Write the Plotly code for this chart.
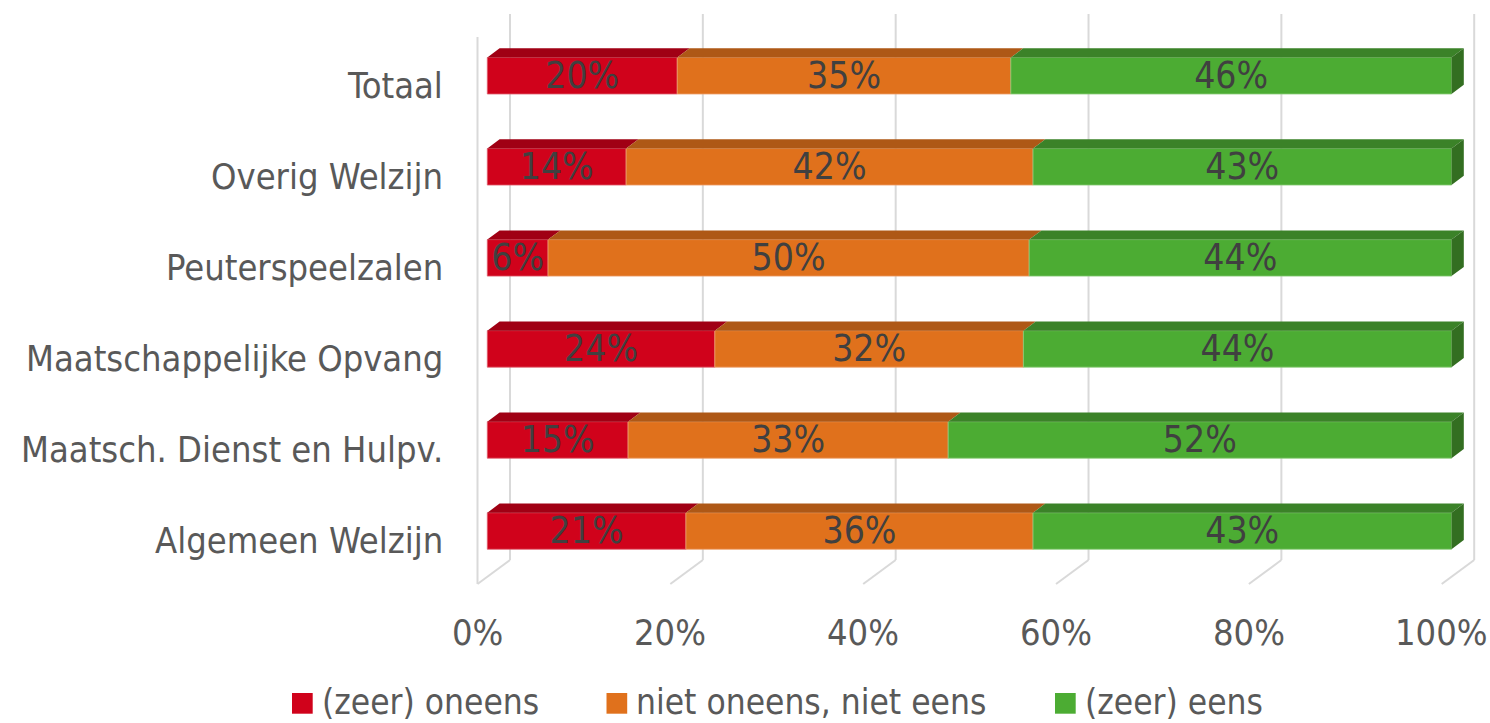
import plotly.graph_objects as go

# ---- data -------------------------------------------------------------
categories = [
    "Totaal",
    "Overig Welzijn",
    "Peuterspeelzalen",
    "Maatschappelijke Opvang",
    "Maatsch. Dienst en Hulpv.",
    "Algemeen Welzijn",
]
series_names = ["(zeer) oneens", "niet oneens, niet eens", "(zeer) eens"]
oneens = [19.7, 14.4, 6.3, 23.6, 14.6, 20.6]
neutraal = [34.6, 42.2, 49.9, 32.0, 33.2, 36.0]
eens = [45.7, 43.4, 43.8, 44.4, 52.2, 43.4]
x_ticks = [0, 20, 40, 60, 80, 100]
x_ticklabels = ["0%", "20%", "40%", "60%", "80%", "100%"]

# ---- style ------------------------------------------------------------
front_colors = ["#D0021B", "#E0711C", "#4CAC33"]
edge_colors = ["#E0606E", "#EDA069", "#8ACB79"]
top_colors = ["#A00014", "#AE5816", "#3B8228"]
side_color = "#336E21"
grid_color = "#D9D9D9"
label_color = "#404040"
axis_text_color = "#595959"
FONT = "DejaVu Sans Condensed, DejaVu Sans, sans-serif"

W, H = 1490, 723
X0_PX = 487.3        # pixel of 0% on the bar fronts
PX_PER_PCT = 9.642   # pixels per percent
Y0_PX = 75.75        # pixel centre of the first row
PX_PER_ROW = 91.05   # pixels between rows


def dx(px):
    return px / PX_PER_PCT


def dy(px):
    return px / PX_PER_ROW


BAR_W = dy(36.5)
DEPTH_X = dx(12.3)
DEPTH_Y = dy(9.2)
BACK_DX = dx(22.7)
FRONT_DX = dx(-9.8)
GRID_TOP = dy(14 - Y0_PX)
WALL_TOP = dy(37 - Y0_PX)
BACK_FLOOR = dy(560 - Y0_PX)
FRONT_FLOOR = dy(584 - Y0_PX)

rows = list(range(len(categories)))
series_values = [oneens, neutraal, eens]

fig = go.Figure()

# bar fronts, stacked
bases = [0.0] * len(rows)
series_bases = []
for name, vals, col, edge in zip(series_names, series_values, front_colors, edge_colors):
    series_bases.append(list(bases))
    fig.add_trace(go.Bar(
        y=rows, x=vals, base=list(bases), orientation="h", width=BAR_W,
        marker=dict(color=col, line=dict(width=0.8, color=edge)), name=name,
        showlegend=False, hoverinfo="skip",
    ))
    bases = [b + v for b, v in zip(bases, vals)]

# top faces of each segment
for vals, base, col in zip(series_values, series_bases, top_colors):
    xs, ys = [], []
    for r, v, b in zip(rows, vals, base):
        yt = r - BAR_W / 2
        xs += [b, b + v, b + v + DEPTH_X, b + DEPTH_X, b, None]
        ys += [yt, yt, yt - DEPTH_Y, yt - DEPTH_Y, yt, None]
    fig.add_trace(go.Scatter(
        x=xs, y=ys, mode="lines", fill="toself", fillcolor=col,
        line=dict(width=0, color=col), showlegend=False, hoverinfo="skip",
    ))

# right-hand side faces of the last segment
xs, ys = [], []
for r, b, v in zip(rows, series_bases[-1], series_values[-1]):
    xe = b + v
    yt, yb = r - BAR_W / 2, r + BAR_W / 2
    xs += [xe, xe + DEPTH_X, xe + DEPTH_X, xe, xe, None]
    ys += [yt, yt - DEPTH_Y, yb - DEPTH_Y, yb, yt, None]
fig.add_trace(go.Scatter(
    x=xs, y=ys, mode="lines", fill="toself", fillcolor=side_color,
    line=dict(width=0, color=side_color), showlegend=False, hoverinfo="skip",
))

# value labels centred on each front face
for vals, base in zip(series_values, series_bases):
    fig.add_trace(go.Scatter(
        x=[b + v / 2 for b, v in zip(base, vals)], y=[r + dy(2.5) for r in rows], mode="text",
        text=[f"{int(v + 0.5)}%" for v in vals],
        textposition="middle center",
        textfont=dict(family=FONT, size=37, color=label_color),
        showlegend=False, hoverinfo="skip",
    ))

# back wall gridlines, floor lines and side wall edge
shapes = []
for t in x_ticks:
    shapes.append(dict(type="line", layer="below", x0=t + BACK_DX, x1=t + BACK_DX,
                       y0=GRID_TOP, y1=BACK_FLOOR, line=dict(color=grid_color, width=2)))
    shapes.append(dict(type="line", layer="below", x0=t + BACK_DX, x1=t + FRONT_DX,
                       y0=BACK_FLOOR, y1=FRONT_FLOOR, line=dict(color=grid_color, width=2)))
shapes.append(dict(type="line", layer="below", x0=x_ticks[0] + FRONT_DX, x1=x_ticks[0] + FRONT_DX,
                   y0=WALL_TOP, y1=FRONT_FLOOR, line=dict(color=grid_color, width=2)))

annotations = []
# category labels
for r, c in zip(rows, categories):
    annotations.append(dict(x=dx(444.5 - X0_PX), y=r + dy(9.5), text=c, showarrow=False,
                            xanchor="right", yanchor="middle",
                            font=dict(family=FONT, size=36, color=axis_text_color)))
# value axis labels
for t, lab in zip(x_ticks, x_ticklabels):
    annotations.append(dict(x=t + FRONT_DX, y=dy(632 - Y0_PX), text=lab, showarrow=False,
                            xanchor="center", yanchor="middle",
                            font=dict(family=FONT, size=36, color=axis_text_color)))

# legend
legend_left_px = [292, 606.5, 1055]
KEY = 20.7
KEY_TOP = 693
for name, col, lx in zip(series_names, front_colors, legend_left_px):
    shapes.append(dict(type="rect", xref="paper", yref="paper",
                       x0=lx / W, x1=(lx + KEY) / W,
                       y0=1 - (KEY_TOP + KEY) / H, y1=1 - KEY_TOP / H,
                       fillcolor=col, line=dict(width=0)))
    annotations.append(dict(xref="paper", yref="paper", x=(lx + KEY + 7) / W, y=1 - 702 / H,
                            text=name, showarrow=False, xanchor="left", yanchor="middle",
                            font=dict(family=FONT, size=35, color=axis_text_color)))

fig.update_layout(
    width=W, height=H,
    margin=dict(l=0, r=0, t=0, b=0),
    paper_bgcolor="white", plot_bgcolor="white",
    barmode="overlay",
    xaxis=dict(range=[-X0_PX / PX_PER_PCT, (W - X0_PX) / PX_PER_PCT], visible=False, fixedrange=True),
    yaxis=dict(range=[(H - Y0_PX) / PX_PER_ROW, -Y0_PX / PX_PER_ROW], visible=False, fixedrange=True),
    shapes=shapes,
    annotations=annotations,
    showlegend=False,
)

fig.write_html("out.html")
